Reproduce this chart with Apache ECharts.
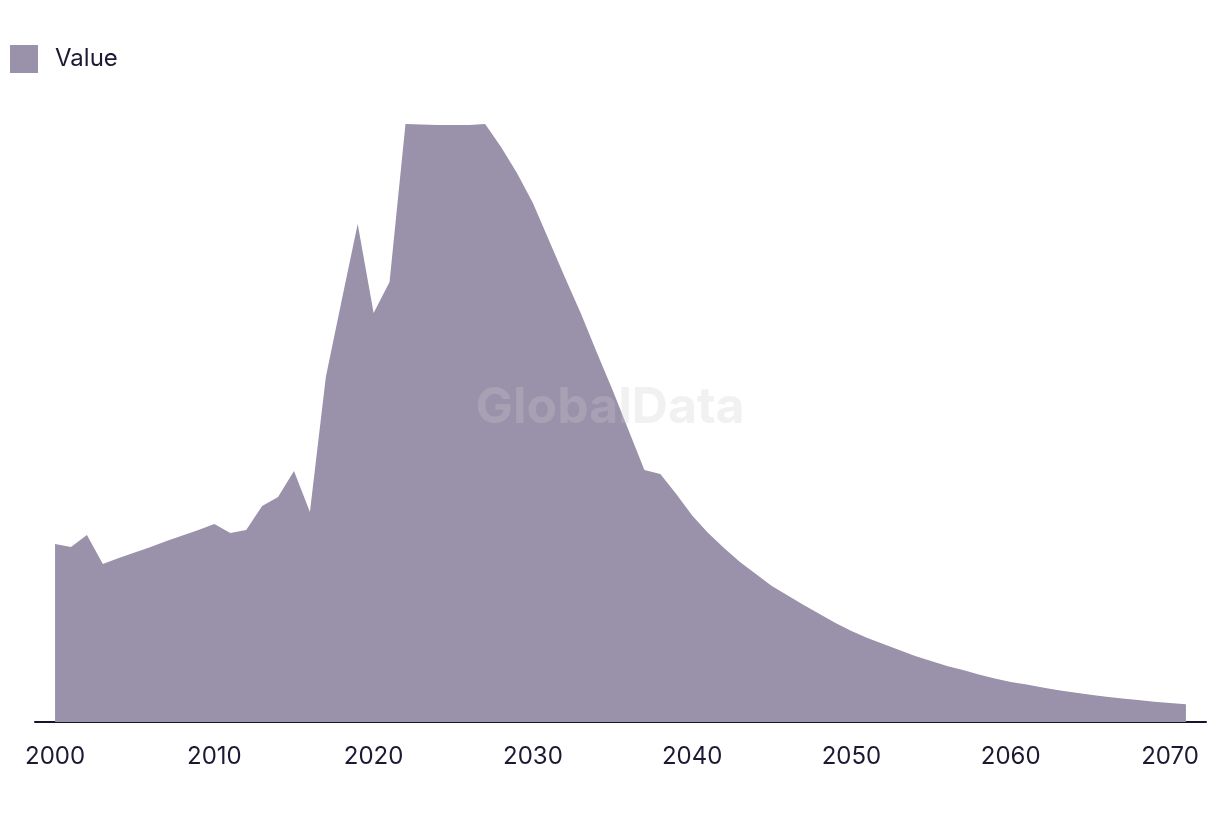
<!DOCTYPE html>
<html>
<head>
<meta charset="utf-8">
<script src="https://cdn.jsdelivr.net/npm/echarts@6/dist/echarts.min.js"></script>
<style>html,body{margin:0;padding:0;background:#fff}#c{width:1220px;height:814px}</style>
</head>
<body>
<div id="c"></div>
<script>
const years = [];
for (let y = 2000; y <= 2071; y++) years.push(y);
const values = [
  178, 175, 187, 158, 164, 169.5, 175, 181, 186.5, 192,
  198, 189, 192, 216, 225, 251, 210, 345, 422, 498,
  409, 440, 598, 597.5, 597, 597, 597, 598, 575, 549,
  519, 482, 445, 409, 370, 332, 292, 252, 248, 228,
  206.5, 189, 174, 160, 148, 136, 126.5, 117, 108, 99,
  91, 84, 78, 72, 66, 61, 56, 52, 47.5, 43.5,
  40, 37.5, 34.5, 31.7, 29.5, 27.2, 25.2, 23.5, 22, 20.2,
  19, 17.7
];
const tickLabels = [2000, 2010, 2020, 2030, 2040, 2050, 2060, 2070];
const seriesName = 'Value';

const chart = echarts.init(document.getElementById('c'), null, {renderer: 'canvas'});
const fontFamily = 'Inter, "Noto Sans", sans-serif';
chart.setOption({
  animation: false,
  backgroundColor: '#ffffff',
  title: {
    text: 'GlobalData',
    left: 'center',
    top: 378,
    textStyle: {
      fontFamily: 'Inter, "Liberation Sans", sans-serif',
      fontWeight: 'bold',
      fontSize: 50,
      color: 'rgba(205,205,210,0.28)'
    }
  },
  legend: {
    left: 10,
    top: 45,
    padding: 0,
    itemWidth: 28,
    itemHeight: 28,
    itemGap: 20,
    icon: 'rect',
    textStyle: {fontFamily, fontSize: 24, color: '#1c1a33', padding: [0, 0, 0, 12]},
    data: [seriesName]
  },
  grid: {left: 35, right: 14, top: 124, bottom: 92, containLabel: false},
  xAxis: {
    type: 'value',
    min: 1998.74,
    max: 2072.26,
    splitLine: {show: false},
    axisTick: {show: false},
    axisLine: {show: true, lineStyle: {color: '#16142b', width: 2}},
    axisLabel: {
      customValues: tickLabels,
      fontFamily,
      fontSize: 24,
      color: '#1c1a33',
      margin: 23,
      formatter: v => String(v)
    }
  },
  yAxis: {
    type: 'value',
    min: 0,
    max: 598,
    show: false
  },
  series: [{
    name: seriesName,
    type: 'line',
    data: years.map((y, i) => [y, values[i]]),
    symbol: 'none',
    lineStyle: {width: 0},
    itemStyle: {color: '#9a91aa'},
    areaStyle: {color: '#9a91aa', opacity: 1}
  }]
});
</script>
</body>
</html>
